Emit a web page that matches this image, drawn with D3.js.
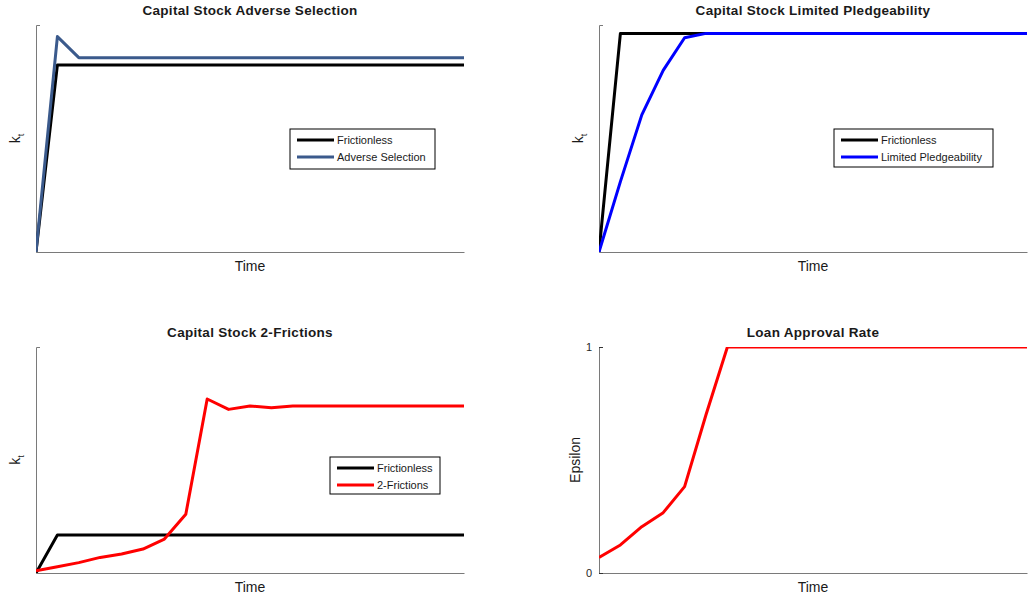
<!DOCTYPE html>
<html>
<head>
<meta charset="utf-8">
<script src="https://cdn.jsdelivr.net/npm/d3@7"></script>
<style>
  body { margin: 0; background: #fff; }
  svg { display: block; font-family: "Liberation Sans", Arial, sans-serif; }
</style>
</head>
<body>
<div id="chart"></div>
<script>
// time index
const time = [0, 1, 2, 3, 4, 5, 6, 7, 8, 9, 10, 11, 12, 13, 14, 15, 16, 17, 18, 19, 20];

// Capital Stock Adverse Selection
const asFrictionless = [0, 0.824, 0.824, 0.824, 0.824, 0.824, 0.824, 0.824, 0.824, 0.824, 0.824,
  0.824, 0.824, 0.824, 0.824, 0.824, 0.824, 0.824, 0.824, 0.824, 0.824];
const asAdverse = [0, 0.949, 0.856, 0.856, 0.856, 0.856, 0.856, 0.856, 0.856, 0.856, 0.856,
  0.856, 0.856, 0.856, 0.856, 0.856, 0.856, 0.856, 0.856, 0.856, 0.856];

// Capital Stock Limited Pledgeability
const lpFrictionless = [0, 0.963, 0.963, 0.963, 0.963, 0.963, 0.963, 0.963, 0.963, 0.963, 0.963,
  0.963, 0.963, 0.963, 0.963, 0.963, 0.963, 0.963, 0.963, 0.963, 0.963];
const lpLimited = [0, 0.31, 0.604, 0.80, 0.944, 0.963, 0.963, 0.963, 0.963, 0.963, 0.963,
  0.963, 0.963, 0.963, 0.963, 0.963, 0.963, 0.963, 0.963, 0.963, 0.963];

// Capital Stock 2-Frictions
const tfFrictionless = [0, 0.168, 0.168, 0.168, 0.168, 0.168, 0.168, 0.168, 0.168, 0.168, 0.168,
  0.168, 0.168, 0.168, 0.168, 0.168, 0.168, 0.168, 0.168, 0.168, 0.168];
const tfTwo = [0.010, 0.028, 0.046, 0.069, 0.084, 0.106, 0.150, 0.260, 0.770, 0.724, 0.739,
  0.731, 0.739, 0.739, 0.739, 0.739, 0.739, 0.739, 0.739, 0.739, 0.739];

// Loan Approval Rate
const epsilon = [0.069, 0.124, 0.205, 0.267, 0.382, 0.70, 1, 1, 1, 1, 1,
  1, 1, 1, 1, 1, 1, 1, 1, 1, 1];
const epsilonTicks = [0, 1];

const width = 1028;
const height = 601;

const svg = d3.select('#chart').append('svg')
    .attr('width', width)
    .attr('height', height);

const panels = [
  {
    title: 'Capital Stock Adverse Selection', ylabel: 'k', sub: 't',
    box: { x: 36, y: 25, w: 428, h: 227 },
    series: [
      { name: 'Frictionless', values: asFrictionless, color: '#000000' },
      { name: 'Adverse Selection', values: asAdverse, color: '#3b5a8c' }
    ],
    legend: { x: 290, y: 129, w: 145, h: 40 }
  },
  {
    title: 'Capital Stock Limited Pledgeability', ylabel: 'k', sub: 't',
    box: { x: 599, y: 25, w: 428, h: 227 },
    series: [
      { name: 'Frictionless', values: lpFrictionless, color: '#000000' },
      { name: 'Limited Pledgeability', values: lpLimited, color: '#0000ff' }
    ],
    legend: { x: 834, y: 129, w: 159, h: 38 }
  },
  {
    title: 'Capital Stock 2-Frictions', ylabel: 'k', sub: 't',
    box: { x: 36, y: 347, w: 428, h: 226 },
    series: [
      { name: 'Frictionless', values: tfFrictionless, color: '#000000' },
      { name: '2-Frictions', values: tfTwo, color: '#ff0000' }
    ],
    legend: { x: 330, y: 457, w: 110, h: 37 }
  },
  {
    title: 'Loan Approval Rate', ylabel: 'Epsilon',
    box: { x: 599, y: 347, w: 428, h: 226 },
    series: [
      { name: 'Epsilon', values: epsilon, color: '#ff0000' }
    ],
    ticks: epsilonTicks
  }
];

panels.forEach((p, i) => drawPanel(p, i));

function drawPanel(p, i) {
  const b = p.box;
  const g = svg.append('g').attr('transform', `translate(${b.x},${b.y})`);

  const x = d3.scaleLinear().domain(d3.extent(time)).range([0, b.w]);
  const y = d3.scaleLinear().domain([0, 1]).range([b.h, 0]);

  g.append('clipPath').attr('id', `clip${i}`)
    .append('rect').attr('x', 0).attr('y', 0).attr('width', b.w).attr('height', b.h);

  // axes (left + bottom only)
  const xAxis = d3.axisBottom(x).tickValues([]).tickSizeOuter(0);
  g.append('g').attr('transform', `translate(0,${b.h})`).call(xAxis)
    .select('.domain').attr('stroke', '#7a7a7a');

  const yAxis = d3.axisLeft(y).tickSizeOuter(0)
    .tickValues(p.ticks || []).tickFormat(d3.format('d'))
    .tickSize(-4).tickPadding(7);
  const ya = g.append('g').call(yAxis);
  ya.select('.domain').attr('stroke', '#7a7a7a');
  ya.selectAll('.tick line').attr('stroke', '#333');
  ya.selectAll('.tick text').attr('font-size', 11).attr('fill', '#262626')
    .attr('font-family', '"Liberation Sans", Arial, sans-serif');

  const line = d3.line()
    .x((d, k) => x(time[k]))
    .y(d => y(d));

  g.append('g').attr('clip-path', `url(#clip${i})`)
    .selectAll('path')
    .data(p.series)
    .join('path')
      .attr('fill', 'none')
      .attr('stroke', d => d.color)
      .attr('stroke-width', 3)
      .attr('stroke-linejoin', 'round')
      .attr('d', d => line(d.values));

  // title
  g.append('text')
    .attr('x', b.w / 2)
    .attr('y', -10)
    .attr('text-anchor', 'middle')
    .attr('font-size', 13.5)
    .attr('font-weight', 'bold')
    .attr('letter-spacing', 0.3)
    .attr('fill', '#1a1a1a')
    .text(p.title);

  // x label
  g.append('text')
    .attr('x', b.w / 2)
    .attr('y', b.h + 19)
    .attr('text-anchor', 'middle')
    .attr('font-size', 14)
    .attr('fill', '#1a1a1a')
    .text('Time');

  // y label
  const yl = g.append('text')
    .attr('transform', `translate(${p.sub ? -16 : -19},${b.h / 2}) rotate(-90)`)
    .attr('text-anchor', 'middle')
    .attr('font-size', 14)
    .attr('fill', '#1a1a1a');
  yl.append('tspan').text(p.ylabel);
  if (p.sub) {
    yl.append('tspan').attr('dy', 4).attr('font-size', 9).text(p.sub);
  }

  // legend
  if (p.legend) {
    const L = p.legend;
    const lg = svg.append('g').attr('transform', `translate(${L.x},${L.y})`);
    lg.append('rect')
      .attr('width', L.w).attr('height', L.h)
      .attr('fill', '#fff').attr('stroke', '#000').attr('stroke-width', 1);
    const rows = lg.selectAll('g.row')
      .data(p.series)
      .join('g')
        .attr('class', 'row')
        .attr('transform', (d, k) => `translate(0,${11 + k * 17})`);
    rows.append('line')
      .attr('x1', 7).attr('x2', 44)
      .attr('stroke', d => d.color).attr('stroke-width', 3);
    rows.append('text')
      .attr('x', 47).attr('y', 4)
      .attr('font-size', 11)
      .attr('fill', '#1a1a1a')
      .text(d => d.name);
  }
}
</script>
</body>
</html>
